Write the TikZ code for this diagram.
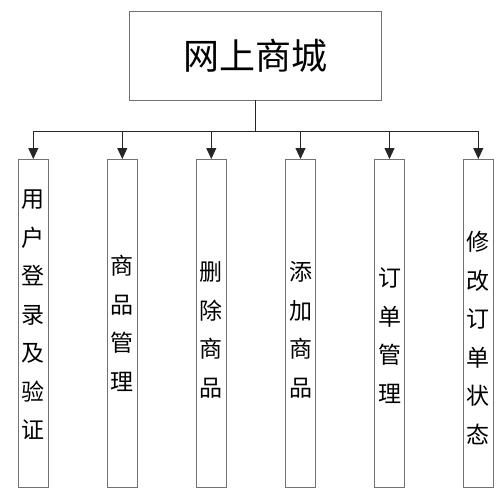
\documentclass[tikz,border=0pt]{standalone}
\usepackage{fontspec}
\newfontfamily\cjk{Noto Sans CJK SC}
\usetikzlibrary{arrows.meta}
\begin{document}
\begin{tikzpicture}[x=1pt,y=-1pt,
  topbox/.style={draw=black!55, line width=0.9pt, minimum width=252pt, minimum height=89pt, inner sep=0,
    font=\cjk\fontsize{36}{40}\selectfont},
  box/.style={draw=black!55, line width=0.9pt, minimum width=30pt, minimum height=328pt, inner sep=0, anchor=north},
  lbl/.style={font=\cjk\fontsize{23}{38.5}\selectfont, align=center, inner sep=0},
  conn/.style={line width=0.9pt, draw=black!85},
  arr/.style={conn, -{Triangle[width=10pt,length=11pt]}}]
\useasboundingbox[fill=white] (0,0) rectangle (500,495);
\node[topbox] (top) at (255.5,55.5) {网上商城};
\coordinate (bus) at (255.5,131);
\node[box] (b1) at (33.3,159) {};
\node[box] (b2) at (122.3,159) {};
\node[box] (b3) at (211.3,159) {};
\node[box] (b4) at (300.5,159) {};
\node[box] (b5) at (389.5,159) {};
\node[box] (b6) at (478.3,159) {};
\node[lbl] (l1) at (33.3,315) {用\\户\\登\\录\\及\\验\\证};
\node[lbl] (l2) at (122.3,323.5) {商\\品\\管\\理};
\node[lbl] (l3) at (211.3,330) {删\\除\\商\\品};
\node[lbl] (l4) at (300.5,330) {添\\加\\商\\品};
\node[lbl] (l5) at (389.5,335.5) {订\\单\\管\\理};
\node[lbl] (l6) at (478.3,338) {修\\改\\订\\单\\状\\态};
\draw[conn] (top.south) -- (bus);
\draw[conn] (b1.north |- bus) -- (b6.north |- bus);
\foreach \i in {1,...,6}{
  \draw[arr] (b\i.north |- bus) -- (b\i.north);
}
\end{tikzpicture}
\end{document}
